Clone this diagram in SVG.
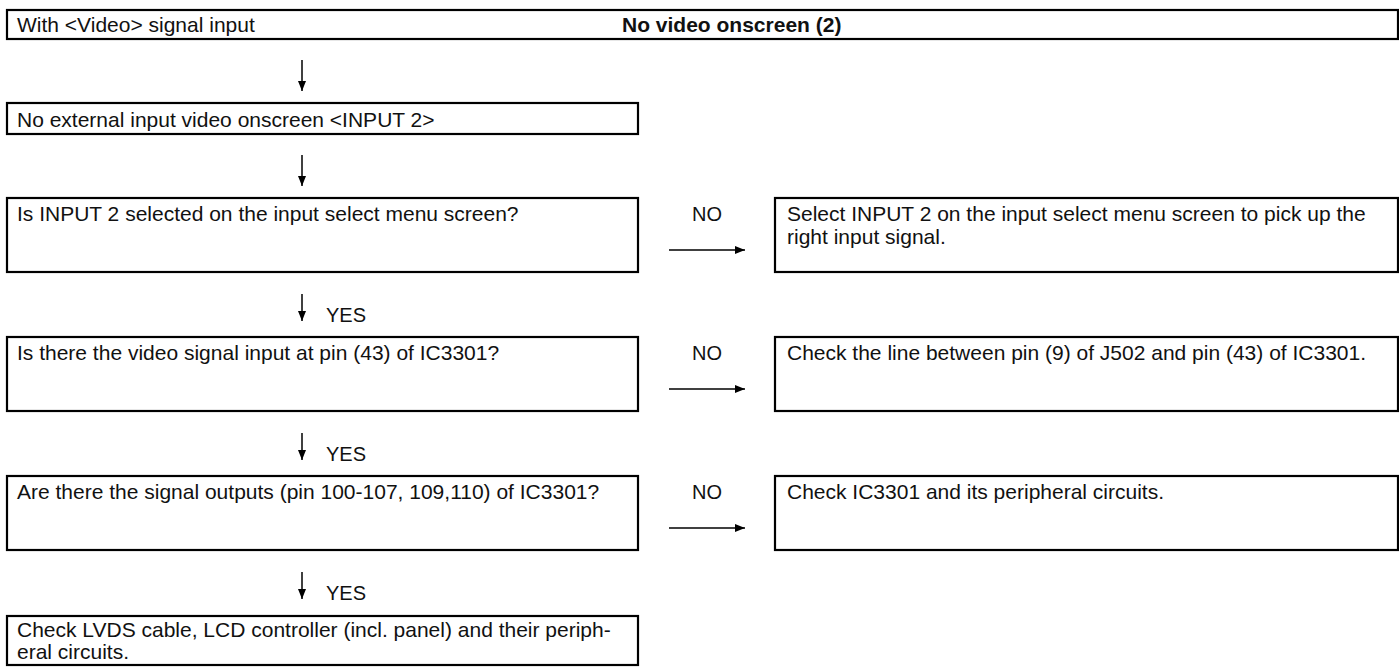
<svg xmlns="http://www.w3.org/2000/svg" width="1399" height="667" viewBox="0 0 1399 667">
  <defs>
    <marker id="ah" viewBox="0 0 10 8" refX="10" refY="4" markerWidth="10" markerHeight="8" markerUnits="userSpaceOnUse" orient="auto">
      <path d="M0,0 L10,4 L0,8 z" fill="#000"/>
    </marker>
    <style>
      .box { fill: #fff; stroke: #000; stroke-width: 2.2; }
      .txt { font-family: "Liberation Sans", Arial, sans-serif; font-size: 21px; fill: #111; }
      .ttl { font-family: "Liberation Sans", Arial, sans-serif; font-size: 21px; font-weight: bold; fill: #111; }
      .lbl { font-family: "Liberation Sans", Arial, sans-serif; font-size: 20px; fill: #111; }
      .conn { stroke: #000; stroke-width: 1.5; fill: none; marker-end: url(#ah); }
    </style>
  </defs>

  <g id="header">
    <rect class="box" x="7" y="10" width="1391" height="29"/>
    <text class="txt" x="17" y="32">With &lt;Video&gt; signal input</text>
    <text class="ttl" x="622" y="32">No video onscreen (2)</text>
  </g>

  <g id="symptom">
    <rect class="box" x="7" y="103" width="631" height="31"/>
    <text class="txt" x="17" y="127">No external input video onscreen &lt;INPUT 2&gt;</text>
  </g>

  <g id="q-input-select">
    <rect class="box" x="7" y="198" width="631" height="74"/>
    <text class="txt" x="17" y="221">Is INPUT 2 selected on the input select menu screen?</text>
  </g>
  <g id="a-input-select">
    <rect class="box" x="775" y="198" width="623" height="74"/>
    <text class="txt" x="787" y="221">Select INPUT 2 on the input select menu screen to pick up the</text>
    <text class="txt" x="787" y="244">right input signal.</text>
  </g>

  <g id="q-pin43">
    <rect class="box" x="7" y="337" width="631" height="74"/>
    <text class="txt" x="17" y="360">Is there the video signal input at pin (43) of IC3301?</text>
  </g>
  <g id="a-pin43">
    <rect class="box" x="775" y="337" width="623" height="74"/>
    <text class="txt" x="787" y="360">Check the line between pin (9) of J502 and pin (43) of IC3301.</text>
  </g>

  <g id="q-outputs">
    <rect class="box" x="7" y="476" width="631" height="74"/>
    <text class="txt" x="17" y="499">Are there the signal outputs (pin 100-107, 109,110) of IC3301?</text>
  </g>
  <g id="a-outputs">
    <rect class="box" x="775" y="476" width="623" height="74"/>
    <text class="txt" x="787" y="499">Check IC3301 and its peripheral circuits.</text>
  </g>

  <g id="final-check">
    <rect class="box" x="7" y="616" width="631" height="49"/>
    <text class="txt" x="17" y="637">Check LVDS cable, LCD controller (incl. panel) and their periph-</text>
    <text class="txt" x="17" y="659">eral circuits.</text>
  </g>

  <g id="connectors">
    <line class="conn" x1="302" y1="60" x2="302" y2="91"/>
    <line class="conn" x1="302" y1="155" x2="302" y2="186"/>
    <line class="conn" x1="302" y1="294" x2="302" y2="321"/>
    <line class="conn" x1="302" y1="433" x2="302" y2="460"/>
    <line class="conn" x1="302" y1="572" x2="302" y2="599"/>
    <line class="conn" x1="669" y1="250" x2="745" y2="250"/>
    <line class="conn" x1="669" y1="389" x2="745" y2="389"/>
    <line class="conn" x1="669" y1="528" x2="745" y2="528"/>
    <g class="lbl">
      <text x="326" y="322">YES</text>
      <text x="326" y="461">YES</text>
      <text x="326" y="600">YES</text>
      <text x="692" y="221">NO</text>
      <text x="692" y="360">NO</text>
      <text x="692" y="499">NO</text>
    </g>
  </g>
</svg>
